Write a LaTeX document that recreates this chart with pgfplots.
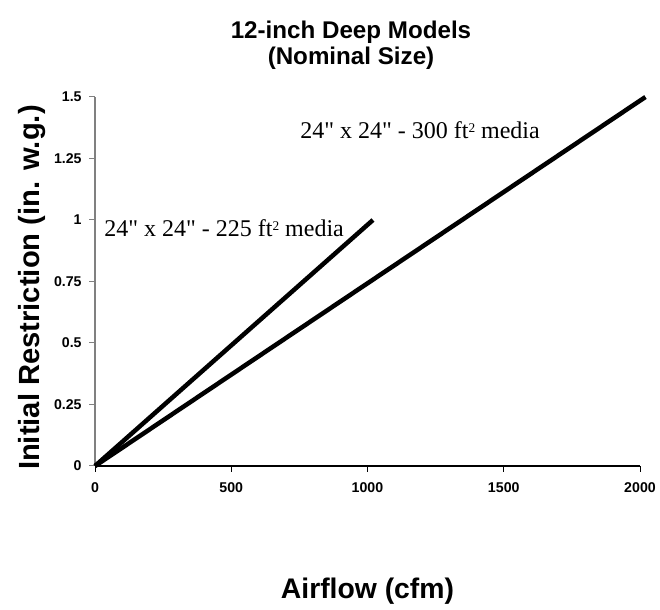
\documentclass[border=0pt]{standalone}
\usepackage{fontspec}
\setmainfont{Liberation Sans}
\newfontfamily\annfont{Liberation Serif}[Ligatures=ResetAll]
\usepackage{pgfplots}
\pgfplotsset{compat=1.18}
\definecolor{axgray}{RGB}{128,128,128}
\newcommand{\sq}{\raisebox{0.55ex}{\fontsize{8}{8}\selectfont 2}}
\begin{document}
\begin{tikzpicture}
\begin{axis}[
  scale only axis,
  width=327pt, height=221.4pt,
  xmin=0, xmax=2000, ymin=0, ymax=1.5,
  axis x line*=bottom, axis y line*=left,
  x axis line style={black, line width=0.8pt, -},
  y axis line style={axgray, line width=0.8pt, -},
  xtick={0,500,1000,1500,2000},
  ytick={0,0.25,0.5,0.75,1,1.25,1.5},
  yticklabels={0,0.25,0.5,0.75,1,1.25,1.5},
  xticklabels={0,500,1000,1500,2000},
  tick align=outside,
  major tick length=3.5pt,
  x tick style={black, line width=0.6pt},
  y tick style={axgray, line width=0.6pt},
  tick label style={font=\bfseries\fontsize{8.5}{10}\selectfont},
  xticklabel style={yshift=-3pt},
  yticklabel style={xshift=-1pt},
  /pgf/number format/assume math mode=true,
  clip=false,
]
\addplot[black, line width=2.7pt] coordinates {(0,0) (1020,1.0)};
\addplot[black, line width=2.7pt] coordinates {(0,0) (2020,1.5)};
\node[anchor=west, font=\annfont\fontsize{14.4}{16}\selectfont, inner sep=0pt] at (axis cs:752,1.366) {24" x 24" - 300 ft\sq{} media};
\node[anchor=west, font=\annfont\fontsize{14.4}{16}\selectfont, inner sep=0pt] at (axis cs:33,0.967) {24" x 24" - 225 ft\sq{} media};
\end{axis}
\node[font=\bfseries\fontsize{14.5}{15.6}\selectfont, align=center] at (153.6pt, 252.6pt) {12-inch Deep Models\\(Nominal Size)};
\node[font=\bfseries\fontsize{17}{20}\selectfont] at (163.5pt, -75pt) {Airflow (cfm)};
\node[font=\bfseries\fontsize{17.5}{20}\selectfont, rotate=90] at (-37.8pt, 107pt) {Initial Restriction (in. w.g.)};
\pgfresetboundingbox
\path (-57pt,-86.4pt) rectangle (339pt,279.6pt);
\end{tikzpicture}
\end{document}
